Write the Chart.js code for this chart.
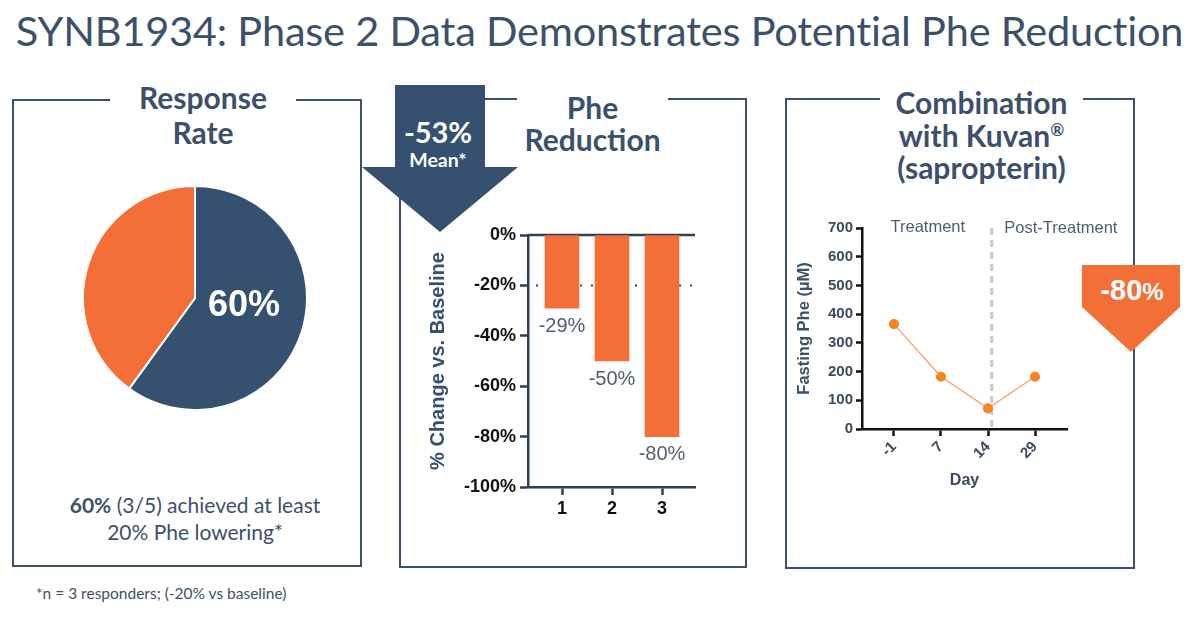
<!DOCTYPE html>
<html>
<head>
<meta charset="utf-8">
<script src="https://cdn.jsdelivr.net/npm/chart.js@4.4.0/dist/chart.umd.min.js"></script>
<style>
  html,body{margin:0;padding:0;background:#fff;}
  body{width:1193px;height:620px;position:relative;overflow:hidden;font-family:Lato,"Open Sans",sans-serif;color:#3d5069;}
  .abs{position:absolute;}
  #title{left:0;top:5px;width:1199px;text-align:center;font-size:41.5px;color:#3d5069;white-space:nowrap;letter-spacing:-0.2px;}
  .box{position:absolute;border:2px solid #3d5069;box-sizing:border-box;}
  .ptitle{position:absolute;background:#fff;text-align:center;font-weight:bold;font-size:30px;color:#3d5069;white-space:nowrap;}
  .ptitle sup{font-size:17px;line-height:0;vertical-align:0;position:relative;top:-11px;}
  .cw{position:absolute;}
</style>
</head>
<body>
<div id="title" class="abs">SYNB1934: Phase 2 Data Demonstrates Potential Phe Reduction</div>

<div class="box" style="left:12px;top:99px;width:350px;height:468px;"></div>
<div class="ptitle" style="left:110px;top:80px;width:186px;line-height:35px;">Response<br>Rate</div>

<div class="box" style="left:399px;top:98px;width:348px;height:470px;"></div>
<div class="ptitle" style="left:517px;top:91px;width:151px;line-height:32px;">Phe<br>Reduction</div>

<div class="box" style="left:785px;top:98px;width:350px;height:471px;"></div>
<div class="ptitle" style="left:880px;top:86px;width:203px;line-height:32.5px;">Combination<br>with Kuvan<sup>®</sup><br>(sapropterin)</div>

<div class="abs" style="left:0;top:0;width:1193px;height:620px;pointer-events:none;">
  <div class="abs" style="left:0;top:0;width:1193px;height:620px;background:#36506f;clip-path:polygon(395px 85px,485px 85px,485px 167px,518px 167px,440px 232px,362px 167px,395px 167px);"></div>
  <div class="abs" style="left:0;top:0;width:1193px;height:620px;background:#f26f38;clip-path:polygon(1082px 265px,1180px 265px,1180px 307px,1131px 352px,1082px 307px);"></div>
</div>
<div class="abs" style="left:383px;top:115px;width:110px;text-align:center;color:#fff;font-weight:bold;font-size:29px;line-height:34px;">-53%</div>
<div class="abs" style="left:383px;top:148px;width:110px;text-align:center;color:#fff;font-weight:bold;font-size:19.5px;line-height:24px;">Mean*</div>
<div class="abs" style="left:1083px;top:273px;width:98px;text-align:center;color:#fff;font-weight:bold;font-size:29px;line-height:34px;font-family:'Liberation Sans',Arial,sans-serif;">-80<span style="font-size:24px">%</span></div>

<div class="abs" style="left:0px;top:491px;width:390px;text-align:center;font-size:21px;line-height:27px;color:#3d5069;">
  <b>60%</b> (3/5) achieved at least<br>20% Phe lowering*</div>
<div class="abs" style="left:36px;top:584px;font-size:15.5px;color:#3d5069;">*n = 3 responders; (-20% vs baseline)</div>

<div class="cw" style="left:80px;top:183px;width:230px;height:230px;"><canvas id="pie"></canvas></div>
<div class="cw" style="left:420px;top:220px;width:300px;height:300px;"><canvas id="bar"></canvas></div>
<div class="cw" style="left:795px;top:210px;width:340px;height:280px;"><canvas id="line"></canvas></div>

<script>
// ---- data ----
const pieLabels = ['Responders', 'Non-responders'];
const pieValues = [60, 40];
const pieCenterLabel = '60%';

const barCategories = ['1', '2', '3'];
const barValues = [-29, -50, -80];
const barThreshold = -20;

const dayLabels = ['-1', '7', '14', '29'];
const pheValues = [365, 182, 72, 182];
const phaseSplit = 2.08; // between day 14 and 29 (index units)

const NAVY = '#36506f';
const ORANGE = '#f36f37';
const ARIAL = "'Liberation Sans', Arial, sans-serif";

// ---- pie ----
new Chart(document.getElementById('pie'), {
  type: 'pie',
  data: { labels: pieLabels, datasets: [{ data: pieValues, backgroundColor: [NAVY, ORANGE], borderColor: '#fff', borderWidth: 2 }] },
  options: {
    responsive: true, maintainAspectRatio: false, animation: false,
    radius: 112,
    layout: { padding: 0 },
    plugins: { legend: { display: false }, tooltip: { enabled: false } }
  },
  plugins: [{
    id: 'pieLabel',
    afterDatasetsDraw(chart) {
      const arc = chart.getDatasetMeta(0).data[0];
      const mid = (arc.startAngle + arc.endAngle) / 2;
      const r = arc.outerRadius * 0.47;
      const x = arc.x + Math.cos(mid) * r - 1;
      const y = arc.y + Math.sin(mid) * r - 8;
      const ctx = chart.ctx;
      ctx.save();
      ctx.fillStyle = '#fff';
      ctx.font = "bold 36px " + ARIAL;
      ctx.textAlign = 'center'; ctx.textBaseline = 'middle';
      ctx.fillText(pieCenterLabel, x, y);
      ctx.restore();
    }
  }]
});

// ---- bar ----
new Chart(document.getElementById('bar'), {
  type: 'bar',
  data: { datasets: [{ data: barCategories.map((c, i) => ({ x: i + 1, y: barValues[i] })), backgroundColor: ORANGE, barThickness: 34 }] },
  options: {
    responsive: true, maintainAspectRatio: false, animation: false,
    layout: { padding: { top: 15, right: 25, bottom: 0, left: 0 } },
    plugins: { legend: { display: false }, tooltip: { enabled: false } },
    scales: {
      x: {
        type: 'linear', min: 0.32, max: 3.66, offset: false,
        afterBuildTicks(s) { s.ticks = barCategories.map((_, i) => ({ value: i + 1 })); },
        grid: { display: true, drawOnChartArea: false, drawTicks: true, tickLength: 8, tickWidth: 2.5, tickColor: '#2f3f55', offset: false },
        border: { display: true, color: '#2f3f55', width: 2.5 },
        ticks: { color: '#111', font: { family: ARIAL, size: 18, weight: 'bold' }, padding: 3, autoSkip: false,
                 callback: v => barCategories[v - 1] },
        afterFit(s) { s.height = 33; }
      },
      y: {
        min: -100, max: 0,
        grid: { display: true, drawOnChartArea: false, drawTicks: true, tickLength: 8, tickWidth: 2.5, tickColor: '#2f3f55' },
        border: { display: true, color: '#2f3f55', width: 2.5 },
        ticks: { stepSize: 20, color: '#111', font: { family: ARIAL, size: 18, weight: 'bold' }, padding: 4,
                 callback: v => v + '%' },
        title: { display: true, text: '% Change vs. Baseline', color: NAVY, font: { family: ARIAL, size: 20, weight: 'bold' }, padding: { top: 6, bottom: 4 } },
        afterFit(s) { s.width = 108; }
      }
    }
  },
  plugins: [{
    id: 'barExtras',
    beforeDatasetsDraw(chart) {
      const { ctx, chartArea, scales } = chart;
      const y = scales.y.getPixelForValue(barThreshold);
      ctx.save();
      ctx.strokeStyle = '#2f3f55'; ctx.lineWidth = 2; ctx.setLineDash([2, 9]);
      ctx.beginPath(); ctx.moveTo(chartArea.left + 8, y); ctx.lineTo(chartArea.right, y); ctx.stroke();
      ctx.setLineDash([]);
      const y0 = scales.y.getPixelForValue(0);
      ctx.lineWidth = 2.5;
      ctx.beginPath(); ctx.moveTo(chartArea.left, y0); ctx.lineTo(chartArea.right, y0); ctx.stroke();
      ctx.restore();
    },
    afterDatasetsDraw(chart) {
      const { ctx } = chart;
      const meta = chart.getDatasetMeta(0);
      ctx.save();
      ctx.fillStyle = '#4f5e72';
      ctx.font = "20px " + ARIAL;
      ctx.textAlign = 'center'; ctx.textBaseline = 'middle';
      meta.data.forEach((bar, i) => {
        ctx.fillText(barValues[i] + '%', bar.x, bar.y + 18);
      });
      ctx.restore();
    }
  }]
});

// ---- line ----
new Chart(document.getElementById('line'), {
  type: 'line',
  data: { datasets: [{
    data: pheValues.map((v, i) => ({ x: i, y: v })),
    borderColor: '#f39a6a', borderWidth: 1.2,
    pointBackgroundColor: '#f5861f', pointBorderColor: '#f5861f', pointRadius: 4.5, tension: 0
  }] },
  options: {
    responsive: true, maintainAspectRatio: false, animation: false,
    layout: { padding: { top: 18, right: 68, bottom: 0, left: 0 } },
    plugins: { legend: { display: false }, tooltip: { enabled: false } },
    scales: {
      x: {
        type: 'linear', min: -0.68, max: 3.68,
        afterBuildTicks(s) { s.ticks = dayLabels.map((_, i) => ({ value: i })); },
        grid: { display: true, drawOnChartArea: false, drawTicks: true, tickLength: 7, tickWidth: 2.5, tickColor: '#111' },
        border: { display: true, color: '#111', width: 2.5 },
        ticks: { color: '#3b4a5e', font: { family: ARIAL, size: 15, weight: 'bold' }, minRotation: 45, maxRotation: 45, padding: 2,
                 autoSkip: false, callback: v => dayLabels[v] },
        title: { display: true, text: 'Day', color: '#3b4a5e', font: { family: ARIAL, size: 16, weight: 'bold' }, padding: { top: 4, bottom: 0 } },
        afterFit(s) { s.height = 61; }
      },
      y: {
        min: 0, max: 700,
        grid: { display: true, drawOnChartArea: false, drawTicks: true, tickLength: 6, tickWidth: 2.5, tickColor: '#111' },
        border: { display: true, color: '#111', width: 2.5 },
        ticks: { stepSize: 100, color: '#3b4a5e', font: { family: ARIAL, size: 15, weight: 'bold' }, padding: 3 },
        title: { display: true, text: 'Fasting Phe (µM)', color: '#3d5069', font: { family: ARIAL, size: 16.5, weight: 'bold' }, padding: { top: 0, bottom: 2 } },
        afterFit(s) { s.width = 67; }
      }
    }
  },
  plugins: [{
    id: 'phase',
    beforeDatasetsDraw(chart) {
      const { ctx, chartArea, scales } = chart;
      const x = scales.x.getPixelForValue(phaseSplit);
      ctx.save();
      ctx.strokeStyle = '#c9c9c9'; ctx.lineWidth = 3; ctx.setLineDash([7, 5]);
      ctx.beginPath(); ctx.moveTo(x, chartArea.top); ctx.lineTo(x, chartArea.bottom); ctx.stroke();
      ctx.setLineDash([]);
      ctx.fillStyle = '#4f5e72';
      ctx.font = "16.5px " + ARIAL;
      ctx.textBaseline = 'middle'; ctx.textAlign = 'center';
      ctx.fillText('Treatment', scales.x.getPixelForValue(0.72), chartArea.top - 1);
      ctx.fillText('Post-Treatment', scales.x.getPixelForValue(3.55), chartArea.top);
      ctx.restore();
    }
  }]
});
</script>
</body>
</html>
